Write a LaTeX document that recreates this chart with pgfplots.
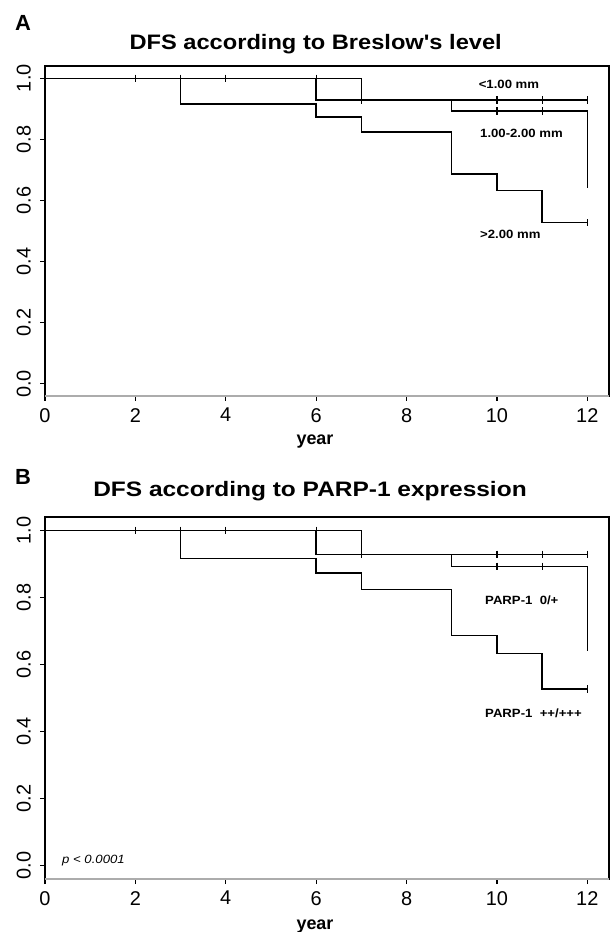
\documentclass[border=0pt]{standalone}
\usepackage{fontspec}
\setmainfont{Liberation Sans}
\newfontfamily\titleAfont[FakeStretch=1.13]{Liberation Sans}
\newfontfamily\titleBfont[FakeStretch=1.17]{Liberation Sans}
\newfontfamily\annfont[FakeStretch=1.1]{Liberation Sans}
\usepackage{pgfplots}
\pgfplotsset{compat=1.18}
\pgfplotsset{
  kmaxis/.style={
    scale only axis, width=564bp,
    xmin=0, xmax=12.48, ymin=-0.04, ymax=1.04,
    axis line style={line width=1.3bp},
    xtick={0,2,4,6,8,10,12}, ytick={0,0.2,0.4,0.6,0.8,1.0},
    tick align=outside, xtick pos=left, ytick pos=left,
    major tick length=5bp,
    every tick/.style={black, line width=1.2bp},
    /pgf/number format/assume math mode=true,
    yticklabel={\pgfmathprintnumber[fixed,fixed zerofill,precision=1,assume math mode=true]{\tick}},
    yticklabel style={rotate=90, anchor=south, inner sep=0pt, yshift=9bp, font=\fontsize{20}{20}\selectfont},
    xticklabel style={anchor=north, inner sep=0pt, yshift=-7bp, font=\fontsize{20}{20}\selectfont},
    clip=false,
  },
  km/.style={black, line width=1.4bp, const plot, no marks},
  cens/.style={black, only marks, mark=|, mark size=3.7bp, mark options={line width=1.2bp}},
}
\begin{document}
\begin{tikzpicture}
\useasboundingbox (0,0) rectangle (611bp,932bp);
% ---------------- Panel A
\begin{axis}[kmaxis, height=330bp, at={(45bp,536bp)}, anchor=south west]
\addplot[km] coordinates {(0,1) (6,0.929) (12,0.929)};
\addplot[km] coordinates {(0,1) (7,0.929) (9,0.893) (12,0.640)};
\addplot[km] coordinates {(0,1) (3,0.916) (6,0.873) (7,0.824) (9,0.687) (10,0.633) (11,0.527) (12,0.527)};
\addplot[cens] coordinates {(2,1) (3,1) (4,1) (6,1) (7,0.929) (10,0.929) (11,0.929) (12,0.929) (10,0.893) (11,0.893) (12,0.527)};
\draw[gray!65, line width=2.2bp] (rel axis cs:0,0) -- (rel axis cs:1,0);
\end{axis}
% ---------------- Panel B
\begin{axis}[kmaxis, height=362bp, at={(45bp,53bp)}, anchor=south west]
\addplot[km] coordinates {(0,1) (6,0.929) (12,0.929)};
\addplot[km] coordinates {(0,1) (7,0.929) (9,0.893) (12,0.640)};
\addplot[km] coordinates {(0,1) (3,0.916) (6,0.873) (7,0.824) (9,0.687) (10,0.633) (11,0.527) (12,0.527)};
\addplot[cens] coordinates {(2,1) (3,1) (4,1) (6,1) (7,0.929) (10,0.929) (11,0.929) (12,0.929) (10,0.893) (11,0.893) (12,0.527)};
\draw[gray!65, line width=2.2bp] (rel axis cs:0,0) -- (rel axis cs:1,0);
\end{axis}
% ---------------- texts
\begin{scope}[every node/.style={inner sep=0pt}]
\node[anchor=base west, font=\fontsize{22}{22}\selectfont\bfseries] at (15bp,901.3bp) {A};
\node[anchor=base, font=\titleAfont\fontsize{21}{22}\selectfont\bfseries] at (315.7bp,882bp) {DFS according to Breslow's level};
\node[anchor=base west, font=\annfont\fontsize{12}{13}\selectfont\bfseries] at (478.6bp,843.5bp) {<1.00 mm};
\node[anchor=base west, font=\annfont\fontsize{12}{13}\selectfont\bfseries] at (480bp,794.7bp) {1.00-2.00 mm};
\node[anchor=base west, font=\annfont\fontsize{12}{13}\selectfont\bfseries] at (480bp,693bp) {>2.00 mm};
\node[anchor=base, font=\fontsize{18}{19}\selectfont\bfseries] at (315bp,487.5bp) {year};
\node[anchor=base west, font=\fontsize{22}{22}\selectfont\bfseries] at (15bp,447bp) {B};
\node[anchor=base, font=\titleBfont\fontsize{21}{22}\selectfont\bfseries] at (310bp,435.3bp) {DFS according to PARP-1 expression};
\node[anchor=base west, font=\annfont\fontsize{12}{13}\selectfont\bfseries] at (485bp,327bp) {PARP-1\ \ 0/+};
\node[anchor=base west, font=\annfont\fontsize{12}{13}\selectfont\bfseries] at (485bp,214bp) {PARP-1\ \ ++/+++};
\node[anchor=base west, font=\annfont\fontsize{12}{13}\selectfont\itshape] at (62bp,68bp) {p < 0.0001};
\node[anchor=base, font=\fontsize{18}{19}\selectfont\bfseries] at (315bp,3bp) {year};
\end{scope}
\end{tikzpicture}
\end{document}
